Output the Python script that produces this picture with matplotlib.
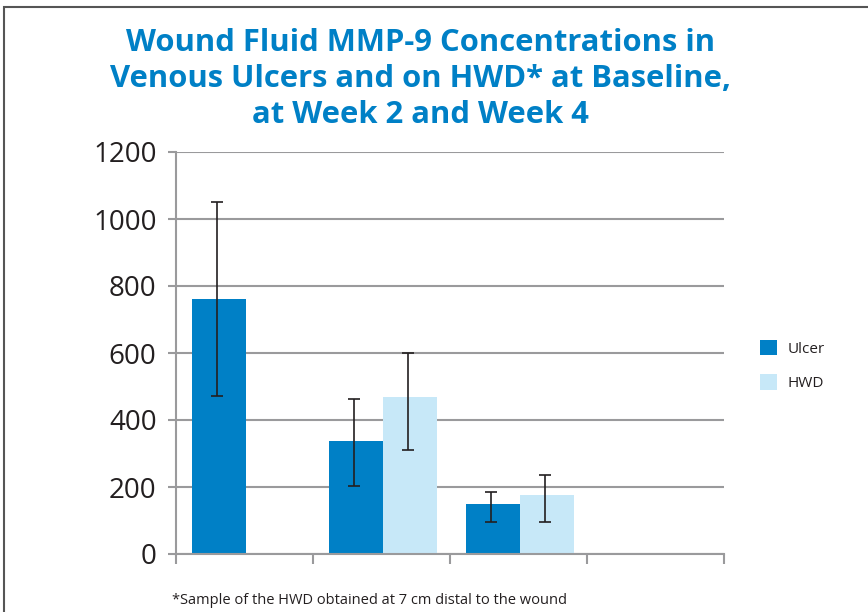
import matplotlib.pyplot as plt
from matplotlib.patches import Rectangle

# data (4th category slot is empty)
groups = ["Baseline", "Week 2", "Week 4", ""]
ulcer = [761, 338, 150, 0]
ulcer_lo = [290, 134, 54, 0]
ulcer_hi = [290, 126, 36, 0]
hwd = [0, 469, 176, 0]
hwd_lo = [0, 158, 80, 0]
hwd_hi = [0, 131, 60, 0]

blue = "#0080c6"
light = "#c7e8f8"
grid = "#9a9a9c"
txt = "#231f20"

plt.rcParams['font.family'] = ['Open Sans', 'DejaVu Sans']

fig = plt.figure(figsize=(8.68, 6.12), dpi=100)
ax = fig.add_axes([176 / 868, 1 - 554 / 612, (724 - 176) / 868, (554 - 152) / 612])

x = list(range(len(groups)))
w = 0.394
xu = [i - w / 2 + 0.01 for i in x]
xh = [i + w / 2 + 0.01 for i in x]
ax.bar(xu, ulcer, width=w, color=blue, label="Ulcer", zorder=2)
ax.bar(xh, hwd, width=w, color=light, label="HWD", zorder=2)

for xs, vals, lo, hi in [(xu, ulcer, ulcer_lo, ulcer_hi), (xh, hwd, hwd_lo, hwd_hi)]:
    for xi, v, l, h in zip(xs, vals, lo, hi):
        if l + h > 0:
            ax.errorbar(xi - 0.015, v, yerr=[[l], [h]], fmt="none", ecolor=txt, elinewidth=1.2,
                        capsize=4, capthick=1.2, zorder=3)

ax.set_xlim(-0.5, 3.5)
ax.set_ylim(0, 1200)
ax.set_yticks(range(0, 1201, 200))
ax.set_xticks([-0.5, 0.5, 1.5, 2.5, 3.5])
ax.set_xticklabels([])
ax.yaxis.grid(True, color=grid, linewidth=1.5, zorder=0)
ax.tick_params(axis="y", length=6, width=1.5, color=grid, labelsize=20, labelcolor=txt, pad=8)
ax.tick_params(axis="x", length=7, width=1.5, color=grid)
for s in ["top", "right"]:
    ax.spines[s].set_visible(False)
for s in ["left", "bottom"]:
    ax.spines[s].set_color(grid)
    ax.spines[s].set_linewidth(1.5)

leg = ax.legend(loc="upper left", bbox_to_anchor=(1.04, 0.567), frameon=False,
                fontsize=11, handlelength=1.15, handleheight=1.2, labelspacing=1.15,
                handletextpad=0.65)
for t in leg.get_texts():
    t.set_color(txt)

fig.text(0.484, 0.955, "Wound Fluid MMP-9 Concentrations in\nVenous Ulcers and on HWD* at Baseline,\nat Week 2 and Week 4",
         ha="center", va="top", fontsize=22.3, fontweight="bold", color=blue, linespacing=1.28)
fig.text(172 / 868, 1 - 600 / 612, "*Sample of the HWD obtained at 7 cm distal to the wound",
         ha="left", va="center", fontsize=10.5, color=txt)

# cropped frame around the figure
fig.patches.append(Rectangle((4 / 868, -0.1), 1.2, 1 - 7 / 612 + 0.1, transform=fig.transFigure,
                             fill=False, edgecolor="#555555", linewidth=1.5))

fig.savefig("out.png", dpi=100)
